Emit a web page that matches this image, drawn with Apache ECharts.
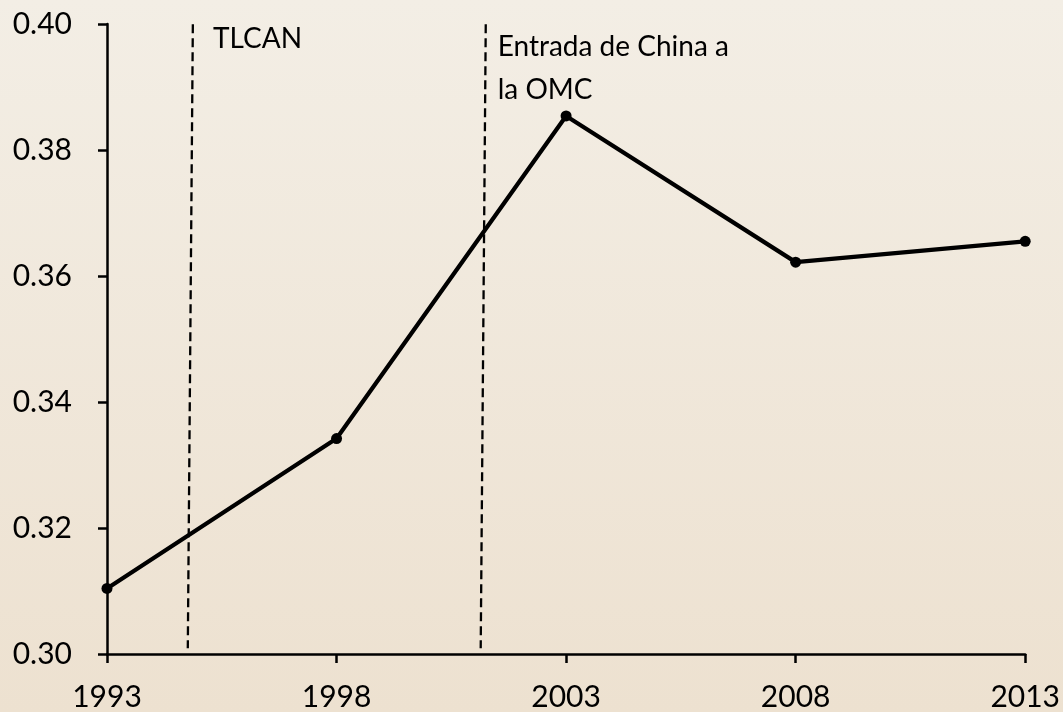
<!DOCTYPE html>
<html><head><meta charset="utf-8">
<script src="https://cdn.jsdelivr.net/npm/echarts@6/dist/echarts.min.js"></script>
<style>
html,body{margin:0;padding:0;}
#c{width:1063px;height:712px;background:linear-gradient(to bottom,#F3EEE5 0%,#EDE1D0 100%);}
</style></head>
<body><div id="c"></div>
<script>
const years = [1993, 1998, 2003, 2008, 2013];
const values = [0.3104, 0.3342, 0.3854, 0.3622, 0.3655];
const events = [
  {name: 'TLCAN', top: [1994.87, 0.39995], bottom: [1994.76, 0.3009], label: [1995.31, 0.3998], dy: -8},
  {name: 'Entrada de China a\nla OMC', top: [2001.25, 0.39995], bottom: [2001.14, 0.3009], label: [2001.51, 0.3998], dy: 0}
];
const FONT = 'Lato';
const chart = echarts.init(document.getElementById('c'), null, {renderer: 'canvas'});
chart.setOption({
  backgroundColor: 'transparent',
  animation: false,
  grid: {left: 107, right: 37, top: 24, bottom: 56},
  xAxis: {
    type: 'value', min: 1993, max: 2013, interval: 5,
    axisLine: {show: true, lineStyle: {color: '#000', width: 2.5}},
    axisTick: {show: true, length: 9, lineStyle: {color: '#000', width: 2.5}},
    axisLabel: {color: '#000', fontFamily: FONT, fontSize: 30, margin: 28, formatter: v => String(v)},
    splitLine: {show: false}
  },
  yAxis: {
    type: 'value', min: 0.30, max: 0.40, interval: 0.02,
    axisLine: {show: true, lineStyle: {color: '#000', width: 2.5}},
    axisTick: {show: true, length: 9, lineStyle: {color: '#000', width: 2.5}},
    axisLabel: {color: '#000', fontFamily: FONT, fontSize: 30, margin: 35, formatter: v => v.toFixed(2)},
    splitLine: {show: false}
  },
  series: [{
    type: 'line',
    clip: false,
    data: years.map((y, i) => [y, values[i]]),
    symbol: 'circle', symbolSize: 11,
    itemStyle: {color: '#000'},
    lineStyle: {color: '#000', width: 4.2},
    z: 5,
    markLine: {
      silent: true, symbol: 'none',
      lineStyle: {color: '#000', width: 2.3, type: [9, 5]},
      label: {show: false},
      data: events.map(e => [{coord: e.top}, {coord: e.bottom}])
    },
    markPoint: {
      silent: true, symbol: 'circle', symbolSize: 0,
      label: {
        show: true, position: 'inside', color: '#000', fontFamily: FONT, fontSize: 28,
        align: 'left', verticalAlign: 'top', lineHeight: 43,
        formatter: p => p.name
      },
      data: events.map(e => ({name: e.name, coord: e.label, label: {offset: [0, e.dy]}}))
    }
  }]
});
</script></body></html>
